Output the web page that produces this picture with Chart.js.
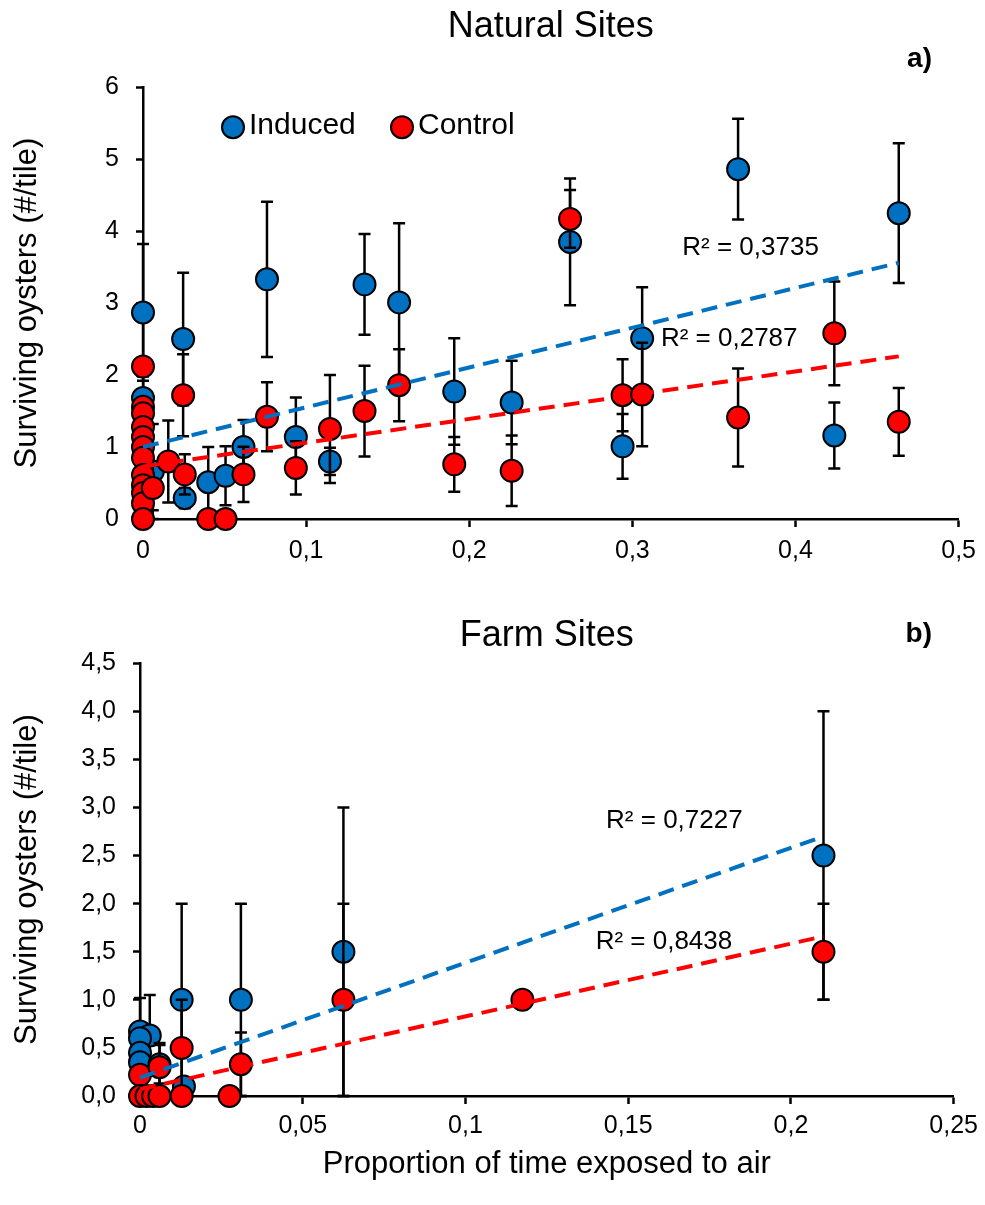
<!DOCTYPE html>
<html>
<head>
<meta charset="utf-8">
<title>Surviving oysters vs air exposure</title>
<script src="https://cdn.jsdelivr.net/npm/chart.js@4"></script>
<style>
  html, body { margin: 0; padding: 0; background: #fff; }
  .panel { position: absolute; left: 0; width: 985px; }
  #top { top: 0; height: 600px; }
  #bottom { top: 600px; height: 605px; }
</style>
</head>
<body>
<div class="panel" id="top"><canvas id="naturalChart" width="985" height="600"></canvas></div>
<div class="panel" id="bottom"><canvas id="farmChart" width="985" height="605"></canvas></div>
<script>
// ---- a) Natural sites ----
const natInducedX = [0, 0, 0.006, 0.0246, 0.0256, 0.040, 0.0506, 0.0616, 0.076, 0.0937, 0.1146, 0.1358, 0.157, 0.1908, 0.226, 0.2618, 0.294, 0.306, 0.3648, 0.4238, 0.4633];
const natInducedY = [2.87, 1.68, 0.66, 2.50, 0.29, 0.51, 0.60, 1.00, 3.33, 1.14, 0.80, 3.26, 3.01, 1.77, 1.62, 3.85, 1.01, 2.51, 4.86, 1.16, 4.25];
const natInducedErr = [0.95, 0.30, 0.66, 0.92, 0.14, 0.49, 0.41, 0.375, 1.08, 0.55, 0.19, 0.70, 1.10, 0.74, 0.58, 0.88, 0.45, 0.71, 0.70, 0.46, 0.97];

const natControlX = [0, 0, 0, 0, 0, 0, 0, 0, 0, 0, 0, 0, 0.006, 0.0155, 0.0246, 0.0256, 0.040, 0.0506, 0.0616, 0.076, 0.0937, 0.1146, 0.1358, 0.157, 0.1908, 0.226, 0.2618, 0.294, 0.306, 0.3648, 0.4238, 0.4633];
const natControlY = [2.12, 1.56, 1.47, 1.28, 1.14, 1.00, 0.85, 0.61, 0.47, 0.36, 0.22, 0, 0.43, 0.80, 1.72, 0.62, 0, 0, 0.62, 1.42, 0.71, 1.25, 1.50, 1.86, 0.76, 0.67, 4.17, 1.72, 1.73, 1.41, 2.58, 1.35];
const natControlErr = [0, 0, 0, 0, 0, 0, 0, 0, 0, 0, 0, 0, 0.31, 0.57, 0.57, 0.28, 0, 0, 0.385, 0.48, 0.37, 0.75, 0.63, 0.50, 0.38, 0.49, 0.40, 0.50, 0.72, 0.68, 0.72, 0.47];

const natTrendX = [0, 0.4633];
const natInducedTrend = [1.0, 3.56];
const natControlTrend = [0.73, 2.26];
const natR2 = ["R² = 0,3735", "R² = 0,2787"];

// ---- b) Farm sites ----
const farmInducedX = [0, 0.003, 0, 0, 0, 0.006, 0.0135, 0.0128, 0.031, 0.0625, 0.21];
const farmInducedY = [0.67, 0.63, 0.60, 0.45, 0.35, 0.33, 0.10, 1.00, 1.00, 1.50, 2.50];
const farmInducedErr = [0.35, 0.42, 0, 0, 0, 0.2, 0, 1.0, 1.0, 1.5, 1.5];

const farmControlX = [0, 0.006, 0, 0.002, 0.004, 0.006, 0.0128, 0.0128, 0.0275, 0.031, 0.0625, 0.1175, 0.21];
const farmControlY = [0.22, 0.30, 0, 0, 0, 0, 0.50, 0, 0, 0.33, 1.00, 1.00, 1.50];
const farmControlErr = [0, 0.25, 0, 0, 0, 0, 0.5, 0, 0, 0.33, 1.0, 0, 0.5];

const farmTrendX = [0, 0.21];
const farmInducedTrend = [0.19, 2.70];
const farmControlTrend = [0.07, 1.66];
const farmR2 = ["R² = 0,7227", "R² = 0,8438"];

const seriesNames = ["Induced", "Control"];

const BLUE = "#0070C0";
const RED = "#FF0000";
const FONT = "'Liberation Sans', Arial, sans-serif";

Chart.defaults.font.family = FONT;
Chart.defaults.color = "#000";
Chart.defaults.animation = false;

function toPoints(xs, ys) {
  return xs.map((x, i) => ({ x: x, y: ys[i] }));
}

function markerSet(label, xs, ys, errs, color, order) {
  return {
    label: label,
    data: toPoints(xs, ys),
    errors: errs,
    pointBackgroundColor: color,
    pointBorderColor: "#000",
    backgroundColor: color,
    borderColor: "#000",
    pointRadius: 11,
    pointHoverRadius: 11,
    pointBorderWidth: 2,
    clip: false,
    order: order,
  };
}

function trendSet(xs, ys, color) {
  return {
    label: "trend",
    data: toPoints(xs, ys),
    showLine: true,
    borderColor: color,
    borderWidth: 4,
    borderDash: [16, 9],
    pointRadius: 0,
    clip: false,
    order: 0,
  };
}

// vertical error bars, drawn just before each dataset so markers sit on top
const errorBars = {
  id: "errorBars",
  beforeDatasetDraw(chart, args) {
    const ds = chart.data.datasets[args.index];
    if (!ds.errors) return;
    const ctx = chart.ctx;
    const xs = chart.scales.x;
    const ys = chart.scales.y;
    ctx.save();
    ctx.strokeStyle = "#000";
    ctx.lineWidth = 2.5;
    ds.data.forEach((p, i) => {
      const e = ds.errors[i];
      if (!e) return;
      const px = xs.getPixelForValue(p.x);
      const top = ys.getPixelForValue(p.y + e);
      const bot = ys.getPixelForValue(Math.max(0, p.y - e));
      ctx.beginPath();
      ctx.moveTo(px, top);
      ctx.lineTo(px, bot);
      ctx.moveTo(px - 6, top);
      ctx.lineTo(px + 6, top);
      ctx.moveTo(px - 6, bot);
      ctx.lineTo(px + 6, bot);
      ctx.stroke();
    });
    ctx.restore();
  },
};

// panel letter, R² notes and the in-plot legend
const panelText = {
  id: "panelText",
  afterDatasetsDraw(chart, args, opts) {
    const ctx = chart.ctx;
    const xs = chart.scales.x;
    const ys = chart.scales.y;
    const area = chart.chartArea;
    ctx.save();
    ctx.fillStyle = "#000";

    ctx.font = "bold 28px " + FONT;
    ctx.textAlign = "right";
    ctx.textBaseline = "alphabetic";
    ctx.fillText(opts.letter, opts.letterX, opts.letterY);

    ctx.font = "26px " + FONT;
    ctx.textAlign = "left";
    ctx.textBaseline = "middle";
    opts.notes.forEach((n) => {
      ctx.fillText(n.text, xs.getPixelForValue(n.x), ys.getPixelForValue(n.y));
    });

    if (opts.legend) {
      const markers = chart.data.datasets.filter((d) => d.errors);
      markers.forEach((d, i) => {
        const cx = area.left + opts.legend.offsets[i];
        const cy = area.top + opts.legend.dy;
        ctx.beginPath();
        ctx.arc(cx, cy, 11, 0, Math.PI * 2);
        ctx.fillStyle = d.pointBackgroundColor;
        ctx.fill();
        ctx.lineWidth = 2;
        ctx.strokeStyle = "#000";
        ctx.stroke();
        ctx.fillStyle = "#000";
        ctx.font = "30px " + FONT;
        ctx.textAlign = "left";
        ctx.textBaseline = "middle";
        ctx.fillText(d.label, cx + 16, cy - 1);
      });
    }
    ctx.restore();
  },
};

function axisOptions(o) {
  return {
    x: {
      type: "linear",
      min: 0,
      max: o.xMax,
      border: { display: true, color: "#000", width: 2.5 },
      grid: { drawOnChartArea: false, drawTicks: true, tickLength: 8, tickColor: "#000", tickWidth: 2.5 },
      ticks: {
        stepSize: o.xStep,
        autoSkip: false,
        maxRotation: 0,
        padding: o.xPad,
        font: { size: 25 },
        callback: (v) => String(Math.round(v * 100) / 100).replace(".", ","),
      },
      title: o.xTitle
        ? { display: true, text: o.xTitle, font: { size: 31 }, padding: { top: 0, bottom: 22 } }
        : { display: false },
      afterFit: (s) => {
        s.height = o.xHeight;
      },
    },
    y: {
      type: "linear",
      min: 0,
      max: o.yMax,
      border: { display: true, color: "#000", width: 2.5 },
      grid: { drawOnChartArea: false, drawTicks: true, tickLength: 7, tickColor: "#000", tickWidth: 2.5 },
      ticks: {
        stepSize: o.yStep,
        padding: 17,
        font: { size: 25 },
        callback: o.yFmt,
      },
      title: { display: true, text: "Surviving oysters (#/tile)", font: { size: 31 }, padding: { top: 9, bottom: 0 } },
      afterFit: (s) => {
        s.width = o.yWidth;
      },
    },
  };
}

function initChart(target, cfg) {
  return new Chart(target, {
    type: "scatter",
    data: {
      datasets: [
        trendSet(cfg.trendX, cfg.inducedTrend, BLUE),
        trendSet(cfg.trendX, cfg.controlTrend, RED),
        markerSet(seriesNames[0], cfg.inducedX, cfg.inducedY, cfg.inducedErr, BLUE, 2),
        markerSet(seriesNames[1], cfg.controlX, cfg.controlY, cfg.controlErr, RED, 1),
      ],
    },
    options: {
      responsive: false,
      animation: false,
      layout: { autoPadding: false, padding: { top: 0, left: 0, bottom: 0, right: cfg.rightPad } },
      scales: axisOptions(cfg.axes),
      plugins: {
        legend: { display: false },
        tooltip: { enabled: false },
        title: {
          display: true,
          text: cfg.title,
          fullSize: false,
          color: "#000",
          font: { size: 36, weight: "normal" },
          padding: cfg.titlePad,
        },
        panelText: cfg.text,
      },
    },
    plugins: [errorBars, panelText],
  });
}

initChart(document.querySelector("#naturalChart"), {
  title: "Natural Sites",
  titlePad: { top: 5, bottom: 39 },
  rightPad: 24,
  inducedX: natInducedX, inducedY: natInducedY, inducedErr: natInducedErr,
  controlX: natControlX, controlY: natControlY, controlErr: natControlErr,
  trendX: natTrendX, inducedTrend: natInducedTrend, controlTrend: natControlTrend,
  axes: {
    xMax: 0.5, xStep: 0.1, xPad: 9, xHeight: 81,
    yMax: 6, yStep: 1, yWidth: 143,
    yFmt: (v) => String(v),
  },
  text: {
    letter: "a)", letterX: 932, letterY: 67,
    notes: [
      { text: natR2[0], x: 0.3306, y: 3.77 },
      { text: natR2[1], x: 0.3175, y: 2.51 },
    ],
    legend: { offsets: [90, 259], dy: 40 },
  },
});

initChart(document.querySelector("#farmChart"), {
  title: "Farm Sites",
  titlePad: { top: 14, bottom: 6 },
  rightPad: 27,
  inducedX: farmInducedX, inducedY: farmInducedY, inducedErr: farmInducedErr,
  controlX: farmControlX, controlY: farmControlY, controlErr: farmControlErr,
  trendX: farmTrendX, inducedTrend: farmInducedTrend, controlTrend: farmControlTrend,
  axes: {
    xMax: 0.25, xStep: 0.05, xPad: 7, xHeight: 109,
    xTitle: "Proportion of time exposed to air",
    yMax: 4.5, yStep: 0.5, yWidth: 140,
    yFmt: (v) => v.toFixed(1).replace(".", ","),
  },
  text: {
    letter: "b)", letterX: 932, letterY: 42,
    notes: [
      { text: farmR2[0], x: 0.1432, y: 2.86 },
      { text: farmR2[1], x: 0.1400, y: 1.60 },
    ],
    legend: null,
  },
});
</script>
</body>
</html>
